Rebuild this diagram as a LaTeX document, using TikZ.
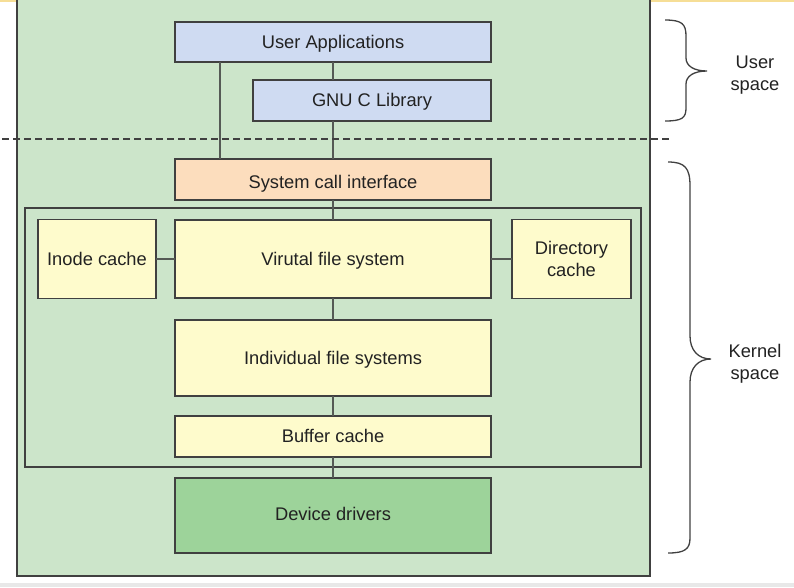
\documentclass[tikz,border=0pt]{standalone}
\usepackage{fontspec}
\setmainfont{Liberation Sans}
\usetikzlibrary{positioning}
\definecolor{spacegreen}{RGB}{204, 229, 202}
\definecolor{userblue}{RGB}{207, 219, 242}
\definecolor{callorange}{RGB}{252, 221, 189}
\definecolor{fsyellow}{RGB}{254, 251, 204}
\definecolor{drivergreen}{RGB}{157, 211, 154}
\definecolor{edgegray}{RGB}{64, 64, 64}
\definecolor{linkgray}{RGB}{85, 90, 85}
\definecolor{inkgray}{RGB}{34, 34, 34}
\definecolor{topstrip}{RGB}{246, 222, 150}
\definecolor{botstrip}{RGB}{232, 232, 232}

\begin{document}
\begin{tikzpicture}[
			x=1pt, y=-1pt,
			layer/.style={rectangle, draw=edgegray, line width=1.5pt, inner sep=0pt, outer sep=0pt, minimum width=316pt, align=center, text=inkgray, font=\fontsize{18.3}{22}\selectfont},
			oneline/.style={text height=16.5pt, text depth=4pt},
			userbox/.style={layer, oneline, fill=userblue},
			callbox/.style={layer, oneline, fill=callorange, minimum height=41pt, text height=21.5pt},
			fsbox/.style={layer, fill=fsyellow},
			drvbox/.style={layer, oneline, fill=drivergreen, minimum height=75pt, text height=13pt},
			spacelabel/.style={align=center, text=inkgray, font=\fontsize{18.3}{22}\selectfont},
			link/.style={draw=linkgray, line width=1.5pt},
			brace/.style={draw=edgegray, line width=1.3pt}
		]
		\clip (0,0) rectangle (794,587);
		\fill[topstrip] (0,0) rectangle (794,2);
		\fill[botstrip] (0,582.5) rectangle (794,587);
		
		% Whole system
		\draw[fill=spacegreen, draw=edgegray, line width=1.5pt] (17,-5) rectangle (650,576);
		
		% User space
		\node[userbox, minimum height=40pt] (user) at (333,42) {User Applications};
		\node[userbox, minimum width=238pt, minimum height=41pt, below=18pt of user.south east, anchor=north east] (glibc) {GNU C Library};
		
		% Kernel space
		\node[callbox] (syscall) at (333,179.5) {System call interface};
		\draw[draw=edgegray, line width=1.5pt] (25,208) rectangle (641,467);
		\node[fsbox, oneline, minimum height=78pt, below=20pt of syscall] (vfs) {Virutal file system};
		\node[fsbox, oneline, minimum width=118pt, minimum height=79pt, left=19pt of vfs] (inode) {Inode cache};
		\node[fsbox, minimum width=119pt, minimum height=79pt, right=21pt of vfs] (dircache) {Directory\\cache};
		\node[fsbox, oneline, minimum height=76pt, below=22pt of vfs] (indfs) {Individual file systems};
		\node[fsbox, oneline, minimum height=41pt, below=20pt of indfs] (buffer) {Buffer cache};
		\node[drvbox, below=21pt of buffer] (drivers) {Device drivers};
		
		\draw[link] ([xshift=45pt]user.south west) -- ([xshift=45pt]syscall.north west);
		\draw[link] (user) -- (user.south |- glibc.north);
		\draw[link] (glibc.south -| syscall.north) -- (syscall);
		\draw[link] (syscall) -- (vfs);
		\draw[link] (inode) -- (vfs);
		\draw[link] (vfs) -- (dircache);
		\draw[link] (vfs) -- (indfs);
		\draw[link] (indfs) -- (buffer);
		\draw[link] (buffer) -- (drivers);
		
		% Boundary between the spaces
		\draw[draw=edgegray, line width=1.3pt, dash pattern=on 7pt off 4pt] (2,139) -- (672,139);
		
		% Braces and labels
		\draw[brace] (665,20) .. controls (682,20) and (686,24) .. (686,36) -- (686,58)
			.. controls (686,66) and (694,71) .. (707,71)
			.. controls (694,71) and (686,76) .. (686,84) -- (686,108)
			.. controls (686,118) and (682,121) .. (665,121);
		\draw[brace] (668,162) .. controls (685,162) and (690,168) .. (690,186) -- (690,336)
			.. controls (690,350) and (698,359) .. (711,359)
			.. controls (698,359) and (690,368) .. (690,382) -- (690,538)
			.. controls (690,549) and (685,553) .. (668,553);
		\node[spacelabel] (userlbl) at (755,75) {User\\space};
		\node[spacelabel] (kernellbl) at (755,364) {Kernel\\space};
\end{tikzpicture}
\end{document}
